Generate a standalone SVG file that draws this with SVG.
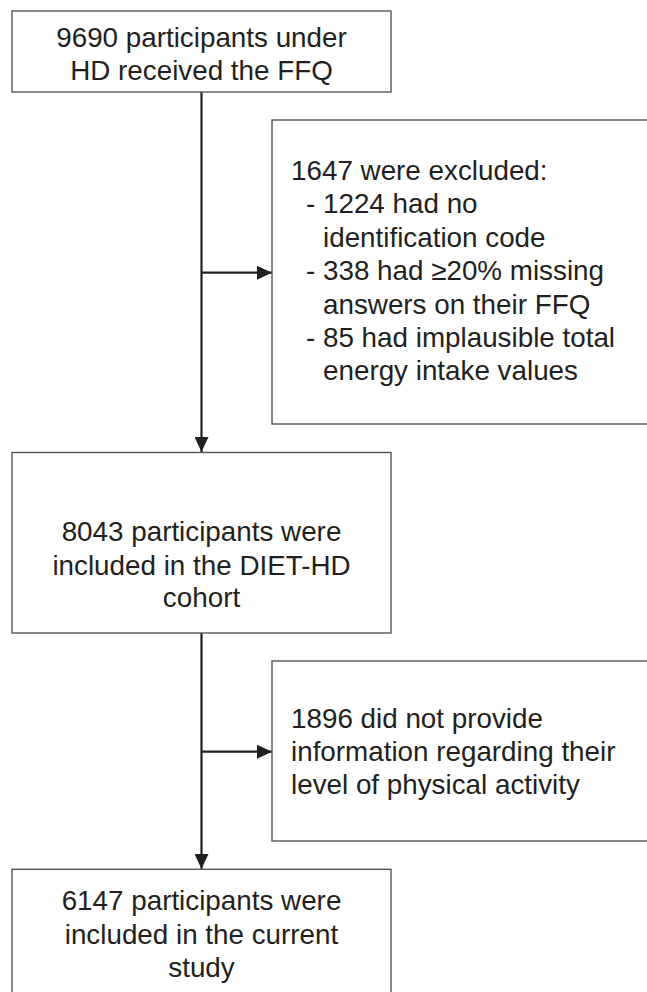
<svg xmlns="http://www.w3.org/2000/svg" width="647" height="992" viewBox="0 0 647 992">
<style>
.box{fill:#ffffff;stroke:#555555;stroke-width:1.4}
.t{font-family:"Liberation Sans",Arial,sans-serif;font-size:27.8px;fill:#231f20}
.c{text-anchor:middle}
.conn{stroke:#231f20;stroke-width:2.2;fill:none}
</style>
<defs>
<marker id="ah" markerUnits="userSpaceOnUse" markerWidth="16" markerHeight="14" refX="15" refY="7" orient="auto">
<path d="M0,0 L15,7 L0,14 Z" fill="#231f20"/>
</marker>
</defs>
<rect width="647" height="992" fill="#ffffff"/>
<g id="connectors">
<line class="conn" x1="201.5" y1="92" x2="201.5" y2="452" marker-end="url(#ah)"/>
<line class="conn" x1="201.5" y1="272.7" x2="272" y2="272.7" marker-end="url(#ah)"/>
<line class="conn" x1="201.5" y1="633" x2="201.5" y2="869" marker-end="url(#ah)"/>
<line class="conn" x1="201.5" y1="751.7" x2="272" y2="751.7" marker-end="url(#ah)"/>
</g>
<g id="node-received">
<rect class="box" x="12" y="11" width="379" height="81"/>
<text class="t c" x="201.5" y="46.5">9690 participants under</text>
<text class="t c" x="201.5" y="79.5">HD received the FFQ</text>
</g>
<g id="node-excluded1">
<rect class="box" x="272" y="120" width="390" height="304"/>
<text class="t" x="291" y="180">1647 were excluded:</text>
<text class="t" x="306" y="213.4">- 1224 had no</text>
<text class="t" x="323" y="246.8">identification code</text>
<text class="t" x="306" y="280.2">- 338 had ≥20% missing</text>
<text class="t" x="323" y="313.6">answers on their FFQ</text>
<text class="t" x="306" y="347">- 85 had implausible total</text>
<text class="t" x="323" y="380.4">energy intake values</text>
</g>
<g id="node-cohort">
<rect class="box" x="12" y="452.5" width="379" height="180.5"/>
<text class="t c" x="201.5" y="541">8043 participants were</text>
<text class="t c" x="201.5" y="574.5">included in the DIET-HD</text>
<text class="t c" x="201.5" y="607">cohort</text>
</g>
<g id="node-excluded2">
<rect class="box" x="272" y="661" width="390" height="180"/>
<text class="t" x="291" y="728">1896 did not provide</text>
<text class="t" x="291" y="761">information regarding their</text>
<text class="t" x="291" y="794">level of physical activity</text>
</g>
<g id="node-study">
<rect class="box" x="12" y="869.3" width="379" height="140"/>
<text class="t c" x="201.5" y="910">6147 participants were</text>
<text class="t c" x="201.5" y="943.5">included in the current</text>
<text class="t c" x="201.5" y="977">study</text>
</g>
</svg>
